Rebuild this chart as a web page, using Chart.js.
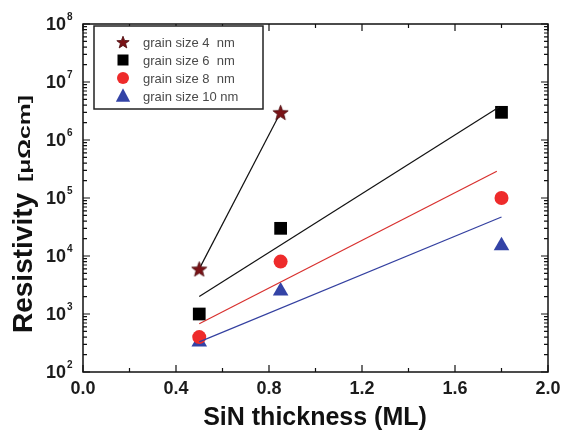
<!DOCTYPE html>
<html>
<head>
<meta charset="utf-8">
<script src="https://cdn.jsdelivr.net/npm/chart.js@4.4.1/dist/chart.umd.min.js"></script>
<style>
  html, body { margin: 0; padding: 0; background: #fff; }
  #wrap { width: 561px; height: 433px; position: relative; }
</style>
</head>
<body>
<div id="wrap"><canvas id="c"></canvas></div>
<script>
// Measured resistivity vs. SiN thickness for several grain sizes
const thickness4 = [0.5, 0.85];
const rho4 = [6000, 3.0e6];
const thickness = [0.5, 0.85, 1.8];
const rho6 = [1000, 30000, 3.0e6];
const rho8 = [400, 8000, 1.0e5];
const rho10 = [330, 2500, 15000];

// End points of the exponential trend lines
const fit6X = [0.5, 1.79];
const fit6Y = [2000, 3.7e6];
const fit8X = [0.5, 1.78];
const fit8Y = [680, 2.9e5];
const fit10X = [0.5, 1.8];
const fit10Y = [330, 4.7e4];

const seriesNames = ['grain size 4  nm', 'grain size 6  nm', 'grain size 8  nm', 'grain size 10 nm'];
const xMajorTicks = [0, 0.4, 0.8, 1.2, 1.6, 2.0];
const xMinorTicks = [0.2, 0.6, 1.0, 1.4, 1.8];
const yExponents = [2, 3, 4, 5, 6, 7, 8];

const colStar = '#7a1216';
const colSquare = '#000000';
const colCircle = '#ee2b2b';
const colTri = '#3343a6';

function pts(xs, ys) { return xs.map((x, i) => ({ x: x, y: ys[i] })); }

// Filled five-pointed star used as a point marker
function makeStar(size, fill) {
  const c = document.createElement('canvas');
  c.width = size; c.height = size;
  const g = c.getContext('2d');
  const cx = size / 2, cy = size / 2 + size * 0.05;
  const R = size / 2 - 0.5, r = R * 0.42;
  g.beginPath();
  for (let i = 0; i < 10; i++) {
    const a = -Math.PI / 2 + i * Math.PI / 5;
    const rr = i % 2 ? r : R;
    g.lineTo(cx + rr * Math.cos(a), cy + rr * Math.sin(a));
  }
  g.closePath();
  g.fillStyle = fill; g.fill();
  g.strokeStyle = '#4a0a0c'; g.lineWidth = 0.8; g.stroke();
  return c;
}
const starBig = makeStar(17, colStar);
const starSmall = makeStar(14, colStar);

function drawMarker(ctx, kind, x, y, s) {
  ctx.save();
  ctx.beginPath();
  if (kind === 'star') {
    ctx.drawImage(starSmall, x - starSmall.width / 2, y - starSmall.height / 2);
  } else if (kind === 'rect') {
    ctx.fillStyle = colSquare;
    ctx.fillRect(x - s / 2, y - s / 2, s, s);
  } else if (kind === 'circle') {
    ctx.fillStyle = colCircle;
    ctx.arc(x, y, s / 2, 0, Math.PI * 2);
    ctx.fill();
  } else if (kind === 'triangle') {
    ctx.fillStyle = colTri;
    ctx.moveTo(x, y - s * 0.6);
    ctx.lineTo(x + s * 0.55, y + s * 0.45);
    ctx.lineTo(x - s * 0.55, y + s * 0.45);
    ctx.closePath();
    ctx.fill();
  }
  ctx.restore();
}

// Frame, inward ticks, tick labels, axis titles and legend
const decorations = {
  id: 'decorations',
  afterDraw(chart) {
    const ctx = chart.ctx;
    const xs = chart.scales.x, ys = chart.scales.y;
    const L = chart.chartArea.left, R = chart.chartArea.right;
    const T = chart.chartArea.top, B = chart.chartArea.bottom;
    ctx.save();
    ctx.strokeStyle = '#111';
    ctx.lineWidth = 1.5;
    ctx.strokeRect(L, T, R - L, B - T);

    ctx.lineWidth = 1.2;
    ctx.beginPath();
    const tick = (x1, y1, x2, y2) => { ctx.moveTo(x1, y1); ctx.lineTo(x2, y2); };
    xMajorTicks.forEach(v => {
      const px = xs.getPixelForValue(v);
      tick(px, B, px, B - 7); tick(px, T, px, T + 7);
    });
    xMinorTicks.forEach(v => {
      const px = xs.getPixelForValue(v);
      tick(px, B, px, B - 4); tick(px, T, px, T + 4);
    });
    yExponents.forEach((e, k) => {
      const py = ys.getPixelForValue(Math.pow(10, e));
      tick(L, py, L + 7, py); tick(R, py, R - 7, py);
      if (k < yExponents.length - 1) {
        for (let m = 2; m <= 9; m++) {
          const pm = ys.getPixelForValue(m * Math.pow(10, e));
          tick(L, pm, L + 4, pm); tick(R, pm, R - 4, pm);
        }
      }
    });
    ctx.stroke();

    // x tick labels
    ctx.fillStyle = '#1c1c1c';
    ctx.font = 'bold 18px "Liberation Sans", Arial, sans-serif';
    ctx.textAlign = 'center';
    ctx.textBaseline = 'alphabetic';
    xMajorTicks.forEach(v => {
      ctx.fillText(v.toFixed(1), xs.getPixelForValue(v), 394);
    });

    // y tick labels: 10 with superscript exponent
    yExponents.forEach(e => {
      const py = ys.getPixelForValue(Math.pow(10, e));
      ctx.font = 'bold 18px "Liberation Sans", Arial, sans-serif';
      ctx.textAlign = 'right';
      ctx.fillText('10', 66, py + 6);
      ctx.font = 'bold 10px "Liberation Sans", Arial, sans-serif';
      ctx.textAlign = 'left';
      ctx.fillText(String(e), 67, py - 4);
    });

    // axis titles
    ctx.fillStyle = '#111';
    ctx.font = 'bold 25px "Liberation Sans", Arial, sans-serif';
    ctx.textAlign = 'center';
    ctx.fillText('SiN thickness (ML)', 315, 425);

    ctx.save();
    ctx.translate(32, 333);
    ctx.rotate(-Math.PI / 2);
    ctx.textAlign = 'left';
    ctx.font = 'bold 28px "Liberation Sans", Arial, sans-serif';
    ctx.fillText('Resistivity', 0, 0);
    ctx.translate(151, -2);
    ctx.scale(1.45, 1);
    ctx.font = 'bold 17px "Liberation Sans", Arial, sans-serif';
    ctx.fillText('[\u03bc\u03a9cm]', 0, 0);
    ctx.restore();

    // legend
    ctx.fillStyle = '#fff';
    ctx.fillRect(94, 26, 169, 83);
    ctx.strokeStyle = '#222';
    ctx.lineWidth = 1.5;
    ctx.strokeRect(94, 26, 169, 83);
    const kinds = ['star', 'rect', 'circle', 'triangle'];
    const sizes = [14, 11, 12, 13];
    ctx.font = '13px "Liberation Sans", Arial, sans-serif';
    ctx.textAlign = 'left';
    ctx.textBaseline = 'middle';
    seriesNames.forEach((name, i) => {
      const yy = 42 + i * 18;
      drawMarker(ctx, kinds[i], 123, yy, sizes[i]);
      ctx.fillStyle = '#4a4a4a';
      ctx.fillText(name, 143, yy + 1);
    });
    ctx.restore();
  }
};

new Chart(document.getElementById('c'), {
  type: 'scatter',
  data: {
    datasets: [
      { data: pts(fit6X, fit6Y), showLine: true, borderColor: '#111', borderWidth: 1.2, pointRadius: 0 },
      { data: pts(fit8X, fit8Y), showLine: true, borderColor: '#d8302e', borderWidth: 1.2, pointRadius: 0 },
      { data: pts(fit10X, fit10Y), showLine: true, borderColor: '#3440a0', borderWidth: 1.2, pointRadius: 0 },
      { label: seriesNames[0], data: pts(thickness4, rho4), showLine: true, borderColor: '#111', borderWidth: 1.2,
        pointStyle: starBig, pointRadius: 8 },
      { label: seriesNames[1], data: pts(thickness, rho6), pointStyle: 'rect', pointRadius: 9,
        backgroundColor: colSquare, borderColor: colSquare, borderWidth: 0 },
      { label: seriesNames[2], data: pts(thickness, rho8), pointStyle: 'circle', pointRadius: 7,
        backgroundColor: colCircle, borderColor: colCircle, borderWidth: 0 },
      { label: seriesNames[3], data: pts(thickness, rho10), pointStyle: 'triangle', pointRadius: 9,
        backgroundColor: colTri, borderColor: colTri, borderWidth: 0 }
    ]
  },
  options: {
    responsive: true,
    maintainAspectRatio: false,
    animation: false,
    layout: { padding: { left: 83, right: 13, top: 24, bottom: 61 } },
    plugins: { legend: { display: false }, tooltip: { enabled: false } },
    scales: {
      x: { type: 'linear', min: 0, max: 2, display: false },
      y: { type: 'logarithmic', min: 100, max: 1e8, display: false }
    }
  },
  plugins: [decorations]
});
</script>
</body>
</html>
